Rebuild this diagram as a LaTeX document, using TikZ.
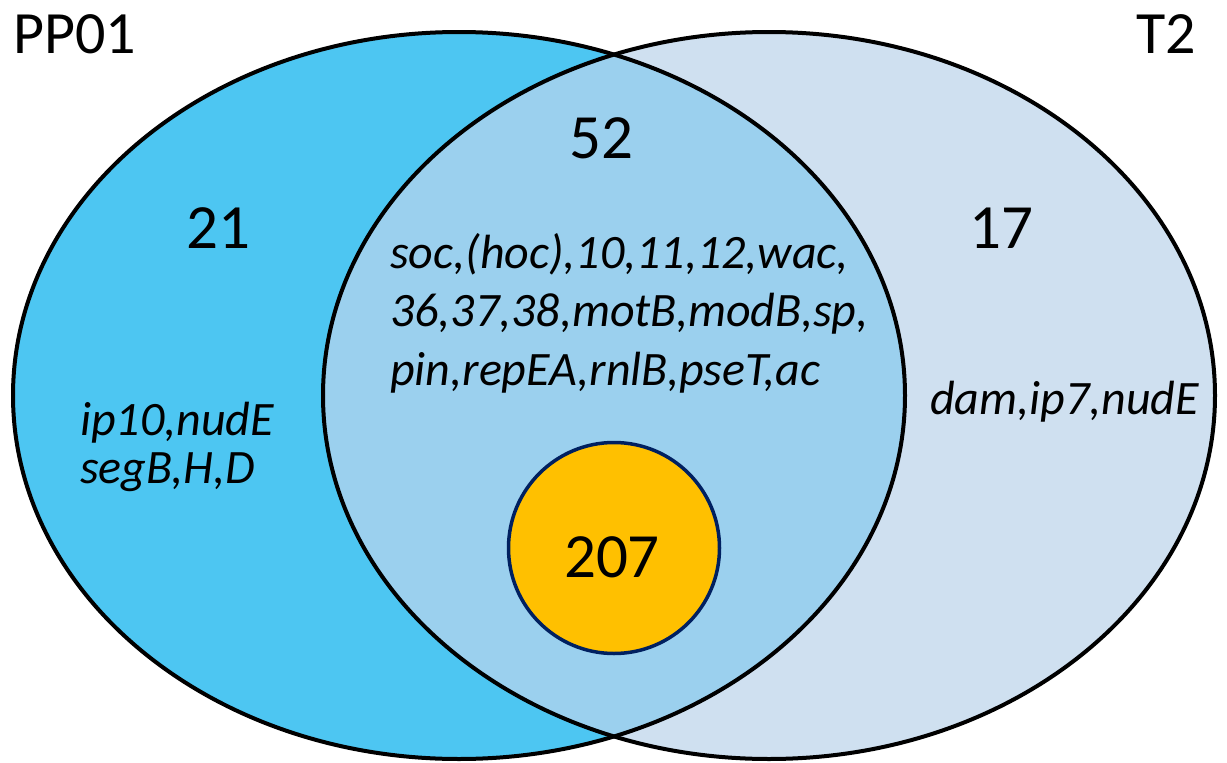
\documentclass[tikz,border=0pt]{standalone}
\usepackage{fontspec}
\setmainfont{Carlito}
\begin{document}
\begin{tikzpicture}[x=1pt,y=-1pt,
  outline/.style={draw=black,line width=4pt},
  bignum/.style={inner sep=0pt,anchor=base,font=\fontsize{63}{70}\selectfont},
  title/.style={inner sep=0pt,font=\fontsize{60}{68}\selectfont},
  genes/.style={inner sep=0pt,anchor=base west,font=\fontsize{48}{58}\selectfont\itshape}]
\definecolor{leftc}{RGB}{77,198,242}
\definecolor{midc}{RGB}{155,208,238}
\definecolor{rightc}{RGB}{207,224,240}
\definecolor{orangec}{RGB}{255,192,0}
\definecolor{navyc}{RGB}{0,32,96}
\useasboundingbox (0,0) rectangle (1227,763);
% fills
\fill[leftc] (459,395.5) ellipse [x radius=446, y radius=363.5];
\fill[rightc] (769,395.5) ellipse [x radius=446, y radius=363.5];
\begin{scope}
  \clip (459,395.5) ellipse [x radius=446, y radius=363.5];
  \fill[midc] (769,395.5) ellipse [x radius=446, y radius=363.5];
\end{scope}
% outlines
\draw[outline] (459,395.5) ellipse [x radius=446, y radius=363.5];
\draw[outline] (769,395.5) ellipse [x radius=446, y radius=363.5];
% core circle
\node[circle,draw=navyc,line width=3.5pt,fill=orangec,minimum size=211pt,inner sep=0pt] (core) at (614,548) {};
% labels
\node[title,anchor=base west] (pp) at (13,53) {PP01};
\node[title,anchor=base east] (t2) at (1196,53) {T2};
\node[bignum] (n21) at (218,248) {21};
\node[bignum] (n52) at (601,158) {52};
\node[bignum] (n17) at (1001,248) {17};
\node[bignum] (n207) at (612,577) {207};
\node[genes] (m1) at (390,268) {soc,(hoc),10,11,12,wac,};
\node[genes] (m2) at (390,326) {36,37,38,motB,modB,sp,};
\node[genes] (m3) at (390,385) {pin,repEA,rnlB,pseT,ac};
\node[genes] (l1) at (80,435) {ip10,nudE};
\node[genes] (l2) at (80,483) {segB,H,D};
\node[genes] (r1) at (930,414) {dam,ip7,nudE};
\end{tikzpicture}
\end{document}
